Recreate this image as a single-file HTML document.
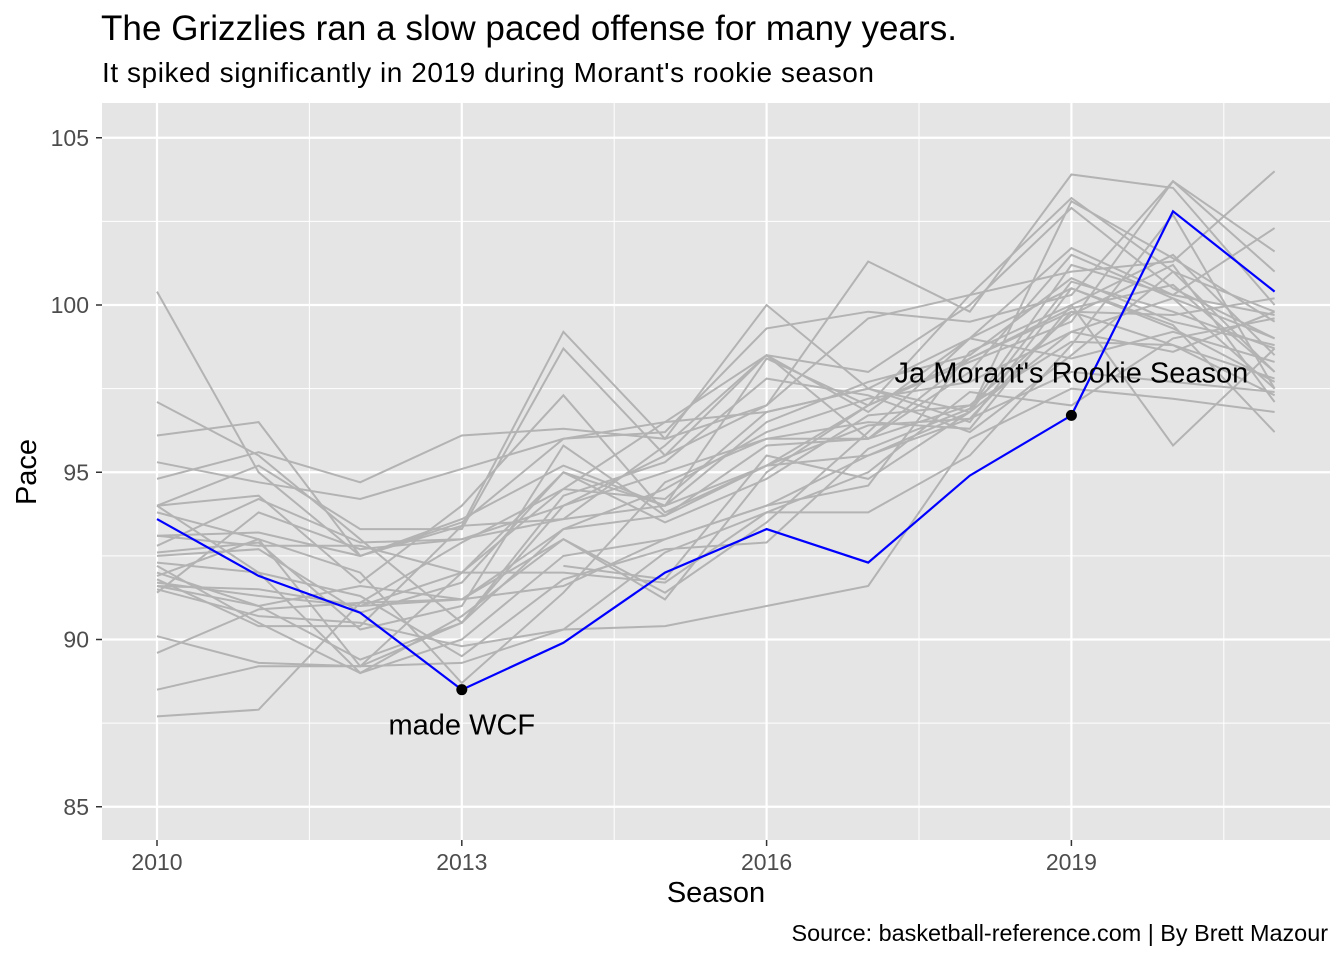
<!DOCTYPE html>
<html><head><meta charset="utf-8"><style>
body{margin:0;background:#fff;font-family:"Liberation Sans",Arial,sans-serif}
svg text{font-family:"Liberation Sans",Arial,sans-serif}
</style></head><body>
<svg id="c" width="1344" height="960" xmlns="http://www.w3.org/2000/svg">
<rect width="1344" height="960" fill="#fff"/>
<text x="101" y="40" font-size="35" textLength="856" fill="#000">The Grizzlies ran a slow paced offense for many years.</text>
<text x="102" y="82" font-size="28" textLength="772" fill="#000">It spiked significantly in 2019 during Morant's rookie season</text>
<rect x="102" y="103" width="1228" height="737" fill="#e5e5e5"/>
<g id="grid"></g>
<g id="gray"></g>
<g id="blue"></g>
<g id="ann"></g>
<g id="axes"></g>
<text x="716" y="902" font-size="29" text-anchor="middle" fill="#000">Season</text>
<text transform="translate(36,472) rotate(-90)" font-size="29" text-anchor="middle" fill="#000">Pace</text>
<text x="1328" y="941" font-size="23.4" text-anchor="end" fill="#000">Source: basketball-reference.com | By Brett Mazour</text>
</svg>
<script>
const seasons=[2010,2011,2012,2013,2014,2015,2016,2017,2018,2019,2020,2021];
const xTicks=[2010,2013,2016,2019];
const yTicks=[85,90,95,100,105];
const grizzlies=[93.6,91.9,90.8,88.5,89.9,92.0,93.3,92.3,94.9,96.7,102.8,100.4];
const t1=[100.4,95.0,92.5,93.5,96.0,96.5,98.5,98.0,100.0,102.9,100.5,99.0];
const t2=[97.1,95.5,93.0,90.5,94.0,95.5,98.5,96.0,98.0,101.5,100.2,97.5];
const t3=[96.1,96.5,92.5,93.4,99.2,96.0,97.0,99.6,100.3,103.2,101.0,98.0];
const t4=[95.3,94.7,94.2,95.1,96.0,96.2,99.3,99.8,99.5,100.3,103.7,101.0];
const t5=[94.8,95.6,94.7,96.1,96.3,96.0,100.0,97.5,99.0,101.7,100.3,102.3];
const t6=[94.0,95.2,93.3,93.3,98.7,95.5,97.0,101.3,99.8,103.9,103.5,100.0];
const t7=[94.0,94.3,91.7,94.0,97.3,93.8,95.2,97.0,100.3,101.0,101.3,104.0];
const t8=[93.8,93.0,89.2,92.0,94.5,94.2,96.8,97.5,96.8,103.1,101.4,99.5];
const t9=[93.1,93.2,92.5,93.6,95.2,94.0,98.4,97.0,98.3,99.5,103.7,101.6];
const t10=[92.8,94.2,92.9,93.0,94.0,95.0,96.0,96.5,96.3,100.0,101.5,98.5];
const t11=[92.6,92.9,90.3,91.0,95.8,93.7,95.2,96.4,96.6,99.8,98.8,97.8];
const t12=[92.5,92.7,90.8,91.7,95.0,94.0,96.5,97.7,98.5,100.8,99.5,98.8];
const t13=[92.0,91.0,89.4,90.5,94.3,95.3,97.8,97.3,96.2,98.5,101.0,99.8];
const t14=[91.8,90.4,90.4,93.4,93.6,94.0,95.2,95.5,96.8,99.2,100.2,99.0];
const t15=[91.6,91.0,91.6,91.2,93.3,93.7,95.8,96.0,97.0,98.9,98.8,97.3];
const t16=[91.6,91.5,91.0,92.0,95.0,93.5,94.8,96.7,97.0,99.7,101.2,97.1];
const t17=[91.4,93.8,92.7,93.0,93.6,95.8,98.5,96.8,99.0,100.5,99.4,96.2];
const t18=[91.7,91.3,91.0,91.2,93.0,91.4,93.5,96.2,99.0,98.4,99.2,98.3];
const t19=[92.2,90.5,89.0,90.0,92.5,93.0,94.0,94.6,98.6,100.0,95.8,98.7];
const t20=[91.5,90.7,90.5,89.8,90.3,92.6,93.8,93.8,95.5,98.8,102.7,97.5];
const t21=[90.1,89.3,89.2,89.3,90.3,90.4,91.0,91.6,96.0,97.5,97.2,96.8];
const t22=[89.6,90.9,91.1,91.2,91.6,93.0,94.0,95.5,96.6,98.0,97.7,97.4];
const t23=[88.5,89.2,89.2,90.5,93.3,94.5,96.2,97.2,97.7,99.2,98.6,99.8];
const t24=[87.7,87.9,91.1,92.9,94.5,96.5,96.8,97.5,96.5,100.5,99.3,97.7];
const t25=[93.1,92.8,92.8,92.0,92.0,91.7,93.8,95.0,97.4,97.0,99.0,99.6];
const t26=[91.9,93.0,92.0,88.7,91.4,94.7,96.0,96.0,98.4,99.8,99.7,100.2];
const t27=[92.3,92.0,91.3,89.5,91.8,92.7,92.9,95.7,96.9,101.2,100.3,99.7];
const t28=[null,null,null,null,92.2,91.8,95.5,94.8,96.8,100.7,99.8,98.7];
const t29=[94.0,92.0,89.0,90.7,93.0,91.2,95.0,97.0,98.4,99.9,100.6,98.0];
const others=[t1,t2,t3,t4,t5,t6,t7,t8,t9,t10,t11,t12,t13,t14,t15,t16,t17,t18,t19,t20,t21,t22,t23,t24,t25,t26,t27,t28,t29];
const wcfIndex=3, rookieIndex=9;

const NS="http://www.w3.org/2000/svg";
const X=v=>157+(v-2010)*101.6;
const Y=v=>305-(v-100)*33.45;
function mk(tag,attrs,parent){const e=document.createElementNS(NS,tag);for(const k in attrs)e.setAttribute(k,attrs[k]);document.getElementById(parent).appendChild(e);return e;}
for(let i=0;i<xTicks.length;i++){const m=xTicks[i]+1.5;const e=mk('line',{x1:X(m),x2:X(m),y1:103,y2:840,stroke:'#fff','stroke-width':1},'grid');

}
for(let i=0;i<yTicks.length;i++){const m=yTicks[i]-2.5;if(Y(m)>840)continue;const e=mk('line',{x1:102,x2:1330,y1:Y(m),y2:Y(m),stroke:'#fff','stroke-width':1},'grid');

}
xTicks.forEach(t=>{const e=mk('line',{x1:X(t),x2:X(t),y1:103,y2:840,stroke:'#fff','stroke-width':2.2},'grid');


const tk=mk('line',{x1:X(t),x2:X(t),y1:840,y2:846,stroke:'#333','stroke-width':1.5},'axes');


const l=mk('text',{x:X(t),y:870,'font-size':23,'text-anchor':'middle',fill:'#4d4d4d'},'axes');l.textContent=t;

});
yTicks.forEach(t=>{const e=mk('line',{x1:102,x2:1330,y1:Y(t),y2:Y(t),stroke:'#fff','stroke-width':2.2},'grid');


const tk=mk('line',{x1:96,x2:102,y1:Y(t),y2:Y(t),stroke:'#333','stroke-width':1.5},'axes');


const l=mk('text',{x:89,y:Y(t)+8,'font-size':23,'text-anchor':'end',fill:'#4d4d4d'},'axes');l.textContent=t;

});
function path(arr){let d='',pen=false;arr.forEach((v,i)=>{if(v==null){pen=false;return;}d+=(pen?'L':'M')+X(seasons[i]).toFixed(1)+','+Y(v).toFixed(1);pen=true;});return d;}
others.forEach(s=>{const p=mk('path',{d:path(s),fill:'none',stroke:'#b3b3b3','stroke-width':2},'gray');

});
const b=mk('path',{d:path(grizzlies),fill:'none',stroke:'#0000ff','stroke-width':2.2},'blue');


[wcfIndex,rookieIndex].forEach(i=>{const c=mk('circle',{cx:X(seasons[i]),cy:Y(grizzlies[i]),r:5.5,fill:'#000'},'ann');

});
const a1=mk('text',{x:X(seasons[wcfIndex]),y:Y(grizzlies[wcfIndex])+45,'font-size':29,'text-anchor':'middle',fill:'#000'},'ann');a1.textContent='made WCF';


const a2=mk('text',{x:X(seasons[rookieIndex]),y:Y(grizzlies[rookieIndex])-33,'font-size':29,'text-anchor':'middle',fill:'#000'},'ann');a2.textContent="Ja Morant's Rookie Season";


</script>
</body></html>
